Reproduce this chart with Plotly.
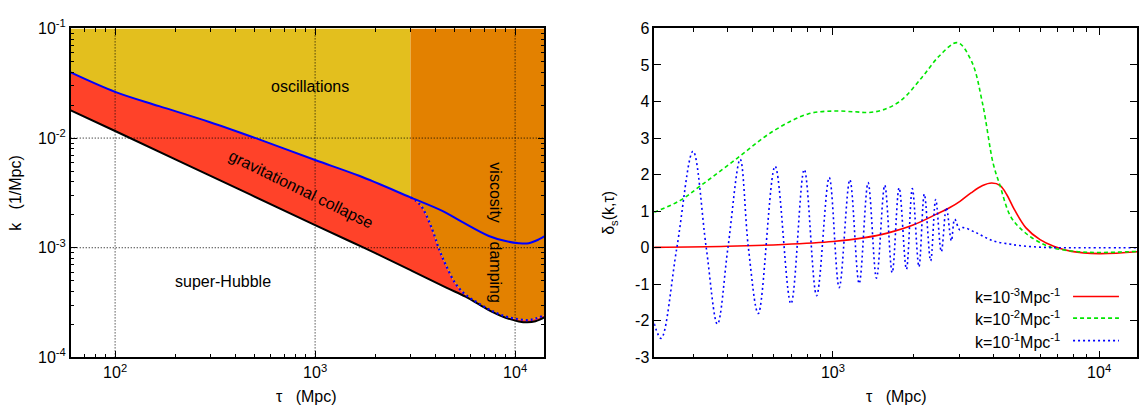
import math
import plotly.graph_objects as go

# ---------------- Left panel data (tau in Mpc, k in 1/Mpc) ----------------
tau_black = [60, 100, 300, 1000, 1761, 3000, 4500, 5650, 6600, 7680, 8960, 10430, 11500, 12650, 14000]
k_black = [0.0179, 0.0116, 4.52e-3, 1.61e-3, 9.96e-4, 6.25e-4, 4.35e-4, 3.58e-4, 3.05e-4,
           2.60e-4, 2.30e-4, 2.13e-4, 2.09e-4, 2.14e-4, 2.32e-4]

tau_blue = [60, 100, 166, 296, 525, 1000, 1660, 3000, 4325, 5430, 7390, 8960, 10430, 11700, 13130, 14000]
k_blue = [0.0397, 0.0264, 0.01955, 0.01403, 9.73e-3, 6.31e-3, 4.53e-3, 2.88e-3, 2.17e-3,
          1.72e-3, 1.28e-3, 1.15e-3, 1.10e-3, 1.10e-3, 1.19e-3, 1.27e-3]

tau_damp = [3000, 3185, 3436, 3855, 4160, 4495, 5040, 5650, 6590, 7680, 8960, 10430, 11700, 12650, 14000]
k_damp = [2.88e-3, 2.69e-3, 2.32e-3, 1.46e-3, 9.78e-4, 7.01e-4, 4.70e-4, 3.73e-4, 3.10e-4,
          2.65e-4, 2.36e-4, 2.23e-4, 2.19e-4, 2.26e-4, 2.42e-4]

tau_switch = 3000          # start of the viscosity damping region
k_top = 0.1                # top of the k axis
tau_lim = [60, 14000]

left_xticks = [100, 1000, 10000]
left_xticktext = ["10<sup>2</sup>", "10<sup>3</sup>", "10<sup>4</sup>"]
left_yticks = [1e-4, 1e-3, 1e-2, 1e-1]
left_yticktext = ["10<sup>-4</sup>", "10<sup>-3</sup>", "10<sup>-2</sup>", "10<sup>-1</sup>"]

# ---------------- Right panel data: delta_s(k, tau) ----------------
tau_k3 = [213, 400, 650, 1000, 1300, 1600, 2000, 2450, 2750, 3000, 3300, 3650, 3950, 4250,
          4500, 4800, 5300, 6000, 6750, 7870, 10000, 13900]
d_k3 = [0.01, 0.04, 0.09, 0.17, 0.27, 0.40, 0.62, 0.92, 1.10, 1.27, 1.50, 1.70, 1.77, 1.70,
        1.45, 1.05, 0.55, 0.22, 0.04, -0.10, -0.16, -0.11]

tau_k2 = [213, 266, 320, 435, 593, 806, 1000, 1200, 1360, 1539, 1795, 2159, 2518, 2937, 3321,
          3644, 3997, 4230, 4664, 5275, 6150, 6744, 8367, 10070, 13900]
d_k2 = [0.97, 1.29, 1.71, 2.44, 3.18, 3.66, 3.74, 3.72, 3.70, 3.77, 4.02, 4.66, 5.26, 5.61, 5.09,
        3.96, 2.31, 1.73, 0.84, 0.41, 0.10, -0.01, -0.11, -0.13, -0.10]

tau_k1 = [213, 226, 259, 298, 334, 368, 403, 448, 481, 524, 606, 695, 780, 868, 968, 1055, 1157,
          1254, 1355, 1457, 1565, 1669, 1772, 1888, 1987, 2104, 2204, 2328, 2432, 2553, 2667,
          2785, 2866, 2994, 3076, 3451, 3990, 4606, 5020, 6200, 8000, 13900]
d_k1 = [-2.08, -2.48, 0.0, 2.64, 0.0, -2.09, 0.0, 2.42, 0.0, -1.80, 2.23, -1.53, 2.14, -1.31,
        1.92, -1.09, 1.86, -0.98, 1.78, -0.83, 1.71, -0.68, 1.64, -0.59, 1.62, -0.52, 1.47,
        -0.36, 1.32, -0.11, 1.10, 0.19, 0.78, 0.49, 0.55, 0.41, 0.19, 0.10, 0.06, 0.01, 0.0, 0.0]

right_tau_lim = [213, 13900]
right_xticks = [1000, 10000]
right_xticktext = ["10<sup>3</sup>", "10<sup>4</sup>"]
right_yticks = [-3, -2, -1, 0, 1, 2, 3, 4, 5, 6]
right_yticktext = [str(v) for v in right_yticks]

legend_labels = ["k=10<sup>-3</sup>Mpc<sup>-1</sup>", "k=10<sup>-2</sup>Mpc<sup>-1</sup>",
                 "k=10<sup>-1</sup>Mpc<sup>-1</sup>"]

# ---------------- styles ----------------
FONT = "Liberation Sans, Arial, Helvetica, sans-serif"
YELLOW = "#e3bf1e"
RED_FILL = "#ff4229"
ORANGE = "#e38100"
C_RED = "#ff0000"
C_GREEN = "#00e600"
C_BLUE = "#0000ff"
NBSP = "\u00a0"
GRID = dict(color="black", width=1, dash="1px,2px")

fig = go.Figure()

# ---- Left panel fills ----
upper_tau = [t for t in tau_blue if t <= tau_switch] + [t for t in tau_damp if t > tau_switch]
upper_k = [k for t, k in zip(tau_blue, k_blue) if t <= tau_switch] + \
          [k for t, k in zip(tau_damp, k_damp) if t > tau_switch]

fig.add_trace(go.Scatter(x=tau_black, y=k_black, mode="lines", line=dict(width=0, shape="spline"),
                         xaxis="x", yaxis="y", hoverinfo="skip", showlegend=False))
fig.add_trace(go.Scatter(x=upper_tau, y=upper_k, mode="lines", line=dict(width=0, shape="spline"),
                         fill="tonexty", fillcolor=RED_FILL,
                         xaxis="x", yaxis="y", hoverinfo="skip", showlegend=False))
# yellow: above blue curve, tau < switch
yb_tau = [t for t in tau_blue if t <= tau_switch]
yb_k = [k for t, k in zip(tau_blue, k_blue) if t <= tau_switch]
fig.add_trace(go.Scatter(x=yb_tau, y=yb_k, mode="lines", line=dict(width=0, shape="spline"),
                         xaxis="x", yaxis="y", hoverinfo="skip", showlegend=False))
fig.add_trace(go.Scatter(x=[tau_lim[0], tau_switch], y=[k_top, k_top], mode="lines", line=dict(width=0),
                         fill="tonexty", fillcolor=YELLOW,
                         xaxis="x", yaxis="y", hoverinfo="skip", showlegend=False))
# orange: above damping curve, tau > switch
fig.add_trace(go.Scatter(x=tau_damp, y=k_damp, mode="lines", line=dict(width=0, shape="spline"),
                         xaxis="x", yaxis="y", hoverinfo="skip", showlegend=False))
fig.add_trace(go.Scatter(x=[tau_switch, tau_lim[1]], y=[k_top, k_top], mode="lines", line=dict(width=0),
                         fill="tonexty", fillcolor=ORANGE,
                         xaxis="x", yaxis="y", hoverinfo="skip", showlegend=False))

# ---- gridlines (left panel only) ----
for t in left_xticks:
    fig.add_trace(go.Scatter(x=[t, t], y=[left_yticks[0], left_yticks[-1]], mode="lines", line=GRID,
                             xaxis="x", yaxis="y", hoverinfo="skip", showlegend=False))
for k in left_yticks[1:-1]:
    fig.add_trace(go.Scatter(x=tau_lim, y=[k, k], mode="lines", line=GRID,
                             xaxis="x", yaxis="y", hoverinfo="skip", showlegend=False))

# ---- Left panel curves ----
fig.add_trace(go.Scatter(x=tau_black, y=k_black, mode="lines",
                         line=dict(color="black", width=2, shape="spline"),
                         xaxis="x", yaxis="y", showlegend=False))
fig.add_trace(go.Scatter(x=tau_blue, y=k_blue, mode="lines",
                         line=dict(color=C_BLUE, width=2, shape="spline"),
                         xaxis="x", yaxis="y", showlegend=False))
fig.add_trace(go.Scatter(x=tau_damp, y=k_damp, mode="lines",
                         line=dict(color=C_BLUE, width=2.2, dash="2px,3px", shape="spline"),
                         xaxis="x", yaxis="y", showlegend=False))

# ---- Right panel curves ----
fig.add_trace(go.Scatter(x=tau_k3, y=d_k3, mode="lines",
                         line=dict(color=C_RED, width=1.6, shape="spline"),
                         xaxis="x2", yaxis="y2", showlegend=False))
fig.add_trace(go.Scatter(x=tau_k2, y=d_k2, mode="lines",
                         line=dict(color=C_GREEN, width=1.6, dash="4px,3px", shape="spline"),
                         xaxis="x2", yaxis="y2", showlegend=False))
fig.add_trace(go.Scatter(x=tau_k1, y=d_k1, mode="lines",
                         line=dict(color=C_BLUE, width=1.6, dash="2px,3px", shape="spline"),
                         xaxis="x2", yaxis="y2", showlegend=False))

# ---------------- axes ----------------
def minor_vals(lo, hi):
    out = []
    e = math.floor(math.log10(lo))
    while 10 ** e <= hi:
        for m in range(2, 10):
            v = m * 10 ** e
            if lo <= v <= hi:
                out.append(v)
        e += 1
    return out

tickfont = dict(family=FONT, size=16, color="black")
common = dict(showline=True, linecolor="black", linewidth=1.5, mirror="allticks",
              ticks="inside", ticklen=7, tickwidth=1, tickcolor="black",
              showgrid=False, zeroline=False, tickfont=tickfont, tickmode="array")

fig.update_layout(
    width=1139, height=414,
    margin=dict(l=0, r=0, t=0, b=0),
    paper_bgcolor="white", plot_bgcolor="white",
    xaxis=dict(domain=[0.0621, 0.4779], type="log",
               range=[math.log10(tau_lim[0]), math.log10(tau_lim[1])],
               tickvals=left_xticks, ticktext=left_xticktext,
               minor=dict(ticks="inside", ticklen=4, tickcolor="black",
                          tickmode="array", tickvals=minor_vals(tau_lim[0], tau_lim[1])),
               anchor="y", **common),
    yaxis=dict(domain=[0.1208, 0.9558], type="log",
               range=[math.log10(left_yticks[0]), math.log10(left_yticks[-1])],
               tickvals=left_yticks, ticktext=left_yticktext,
               minor=dict(ticks="inside", ticklen=4, tickcolor="black",
                          tickmode="array", tickvals=minor_vals(left_yticks[0], left_yticks[-1])),
               anchor="x", **common),
    xaxis2=dict(domain=[0.5744, 0.9984], type="log",
                range=[math.log10(right_tau_lim[0]), math.log10(right_tau_lim[1])],
                tickvals=right_xticks, ticktext=right_xticktext,
                minor=dict(ticks="inside", ticklen=4, tickcolor="black",
                           tickmode="array", tickvals=minor_vals(right_tau_lim[0], right_tau_lim[1])),
                anchor="y2", **common),
    yaxis2=dict(domain=[0.1208, 0.9558],
                range=[right_yticks[0], right_yticks[-1]],
                tickvals=right_yticks, ticktext=right_yticktext,
                anchor="x2", **common),
)

# ---------------- text ----------------
ann = []
def txt(text, x, y, xref="paper", yref="paper", angle=0, xanchor="center", size=16):
    ann.append(dict(text=text, x=x, y=y, xref=xref, yref=yref, textangle=angle,
                    showarrow=False, xanchor=xanchor, yanchor="middle",
                    font=dict(family=FONT, size=size, color="black")))

# axis titles
txt("k" + NBSP * 3 + "(1/Mpc)", 0.0140, 0.5386, angle=-90)
txt("\u03c4" + NBSP * 3 + "(Mpc)", 0.2695, 0.0217)
txt("\u03c4" + NBSP * 3 + "(Mpc)", 0.7867, 0.0217)
txt("\u03b4<sub>s</sub>(k,\u03c4)", 0.5356, 0.4879, angle=-90)

# region labels (log10 coordinates on log axes)
txt("oscillations", 2.9725, -1.529, xref="x", yref="y")
txt("super-Hubble", 2.54, -3.304, xref="x", yref="y")
txt("gravitationnal collapse", 2.9315, -2.466, xref="x", yref="y", angle=26)
txt("viscosity", 3.90, -2.496, xref="x", yref="y", angle=90)
txt("damping", 3.90, -3.218, xref="x", yref="y", angle=90)

# legend (gnuplot style: text on the left, sample on the right)
legend_y = [0.2754, 0.2205, 0.1635]
legend_styles = [dict(color=C_RED, width=1.6), dict(color=C_GREEN, width=1.6, dash="4px,3px"),
                 dict(color=C_BLUE, width=1.6, dash="2px,3px")]
shapes = []
for lab, yy, st in zip(legend_labels, legend_y, legend_styles):
    txt(lab, 0.932, yy, xanchor="right")
    shapes.append(dict(type="line", xref="paper", yref="paper", x0=0.9421, x1=0.9824,
                       y0=yy, y1=yy, line=st))

fig.update_layout(annotations=ann, shapes=shapes)

fig.write_html("out.html")
